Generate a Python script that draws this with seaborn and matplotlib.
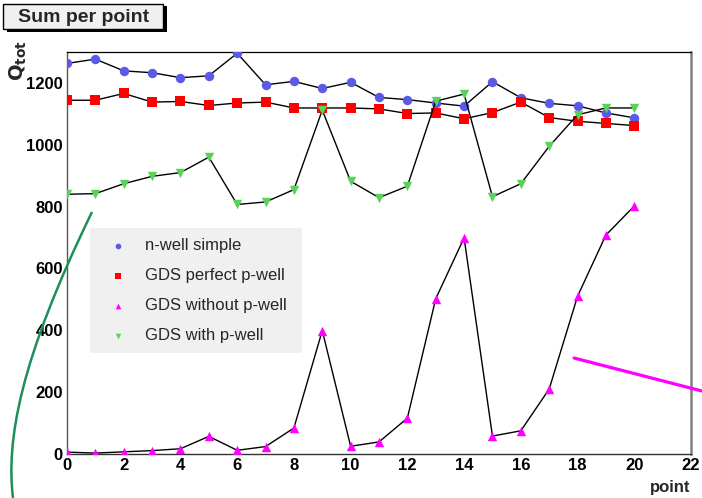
import numpy as np
import pandas as pd
import matplotlib
matplotlib.use("Agg")
import matplotlib.pyplot as plt
from matplotlib.patches import Rectangle, PathPatch
from matplotlib.path import Path
from matplotlib.lines import Line2D
from matplotlib.ticker import MultipleLocator
import seaborn as sns

sns.set_theme(style="white")
plt.rcParams["font.family"] = ["Liberation Sans", "DejaVu Sans"]

# data
points = list(range(21))
nwell_simple = [1263, 1277, 1239, 1233, 1217, 1223, 1296, 1194, 1205, 1182, 1202,
                1153, 1146, 1135, 1125, 1204, 1152, 1134, 1126, 1103, 1087]
gds_perfect = [1144, 1144, 1166, 1138, 1140, 1127, 1135, 1138, 1119, 1119, 1119,
               1116, 1101, 1103, 1084, 1104, 1138, 1088, 1076, 1069, 1062]
gds_without = [6, 3, 7, 11, 17, 57, 12, 24, 84, 399, 25,
               39, 116, 502, 699, 58, 75, 210, 510, 708, 802]
gds_with = [840, 842, 874, 898, 910, 960, 807, 815, 855, 1112, 882,
            829, 866, 1141, 1164, 832, 874, 995, 1097, 1119, 1119]

series_names = ["n-well simple", "GDS perfect p-well", "GDS without p-well", "GDS with p-well"]
series_values = [nwell_simple, gds_perfect, gds_without, gds_with]
series_colors = ["#5a5ae6", "#ff0000", "#ff00ff", "#5ad25a"]
series_markers = ["o", "s", "^", "v"]

W, H = 702, 498
fig = plt.figure(figsize=(W / 100, H / 100), dpi=100)
ax = fig.add_axes([67 / W, 1 - 454 / H, 624 / W, 402 / H])

for i, (name, vals) in enumerate(zip(series_names, series_values)):
    df = pd.DataFrame({"point": points, "q": vals})
    sns.lineplot(data=df, x="point", y="q", color="black", linewidth=1.0,
                 ax=ax, zorder=3 + 2 * i)
    sns.scatterplot(data=df, x="point", y="q", color=series_colors[i],
                    marker=series_markers[i], s=46, linewidth=0, label=name,
                    ax=ax, zorder=4 + 2 * i)

ax.set_xlim(0, 22)
ax.set_ylim(0, 1300)
ax.xaxis.set_major_locator(MultipleLocator(2))
ax.xaxis.set_minor_locator(MultipleLocator(0.5))
ax.yaxis.set_major_locator(MultipleLocator(200))
ax.yaxis.set_minor_locator(MultipleLocator(50))
ax.tick_params(axis="both", which="both", direction="in", colors="#333333",
               labelcolor="black", top=False, right=False)
ax.tick_params(axis="y", which="major", length=12, width=1, labelsize=12, pad=3)
ax.tick_params(axis="y", which="minor", length=6, width=1)
ax.tick_params(axis="x", which="major", length=9, width=1, labelsize=12, pad=3)
ax.tick_params(axis="x", which="minor", length=4.5, width=1)
for lab in ax.get_xticklabels() + ax.get_yticklabels():
    lab.set_fontweight("bold")
ax.set_xlabel("")
ax.set_ylabel("")

ax.spines["top"].set_color("black")
ax.spines["top"].set_linewidth(0.9)
ax.spines["right"].set_color("#808080")
ax.spines["right"].set_linewidth(1.8)
ax.spines["left"].set_color("#555555")
ax.spines["left"].set_linewidth(1.0)
ax.spines["bottom"].set_color("#333333")
ax.spines["bottom"].set_linewidth(1.0)

leg = ax.legend(loc="upper left", bbox_to_anchor=(0.037, 0.562, 0.34, 0.0),
                mode="expand", frameon=True, fancybox=False, framealpha=1,
                facecolor="#f0f0f0", edgecolor="none", fontsize=12,
                markerscale=0.6, handletextpad=0.5, labelspacing=0.9,
                borderpad=0.6, handlelength=2.2, borderaxespad=0)
leg.set_zorder(2)


def px(x, y):
    return (x / W, 1 - y / H)


# title box with shadow
fig.patches.append(Rectangle(px(7, 32), 160 / W, 26 / H, transform=fig.transFigure,
                             facecolor="black", edgecolor="none"))
fig.patches.append(Rectangle(px(3, 29), 160 / W, 25 / H, transform=fig.transFigure,
                             facecolor="#f0f0f0", edgecolor="black", linewidth=1.0))
fig.text(*px(84, 17), "Sum per point", ha="center", va="center",
         fontsize=14, fontweight="bold")

fig.text(*px(18, 61), r"$\mathbf{Q_{tot}}$", rotation=90, ha="center", va="center",
         fontsize=14)
fig.text(*px(690, 487), "point", ha="right", va="center", fontsize=12,
         fontweight="bold")

# hand-drawn annotations
curve = Path([px(92, 212), px(20, 360), px(6, 440), px(13, 498)],
             [Path.MOVETO, Path.CURVE4, Path.CURVE4, Path.CURVE4])
fig.patches.append(PathPatch(curve, transform=fig.transFigure, facecolor="none",
                             edgecolor="#1f8f5a", linewidth=1.8))
fig.lines.append(Line2D([574 / W, 702 / W], [1 - 358 / H, 1 - 391 / H],
                        transform=fig.transFigure, color="#ff00ff", linewidth=2.3))

fig.savefig("out.png", dpi=100)
